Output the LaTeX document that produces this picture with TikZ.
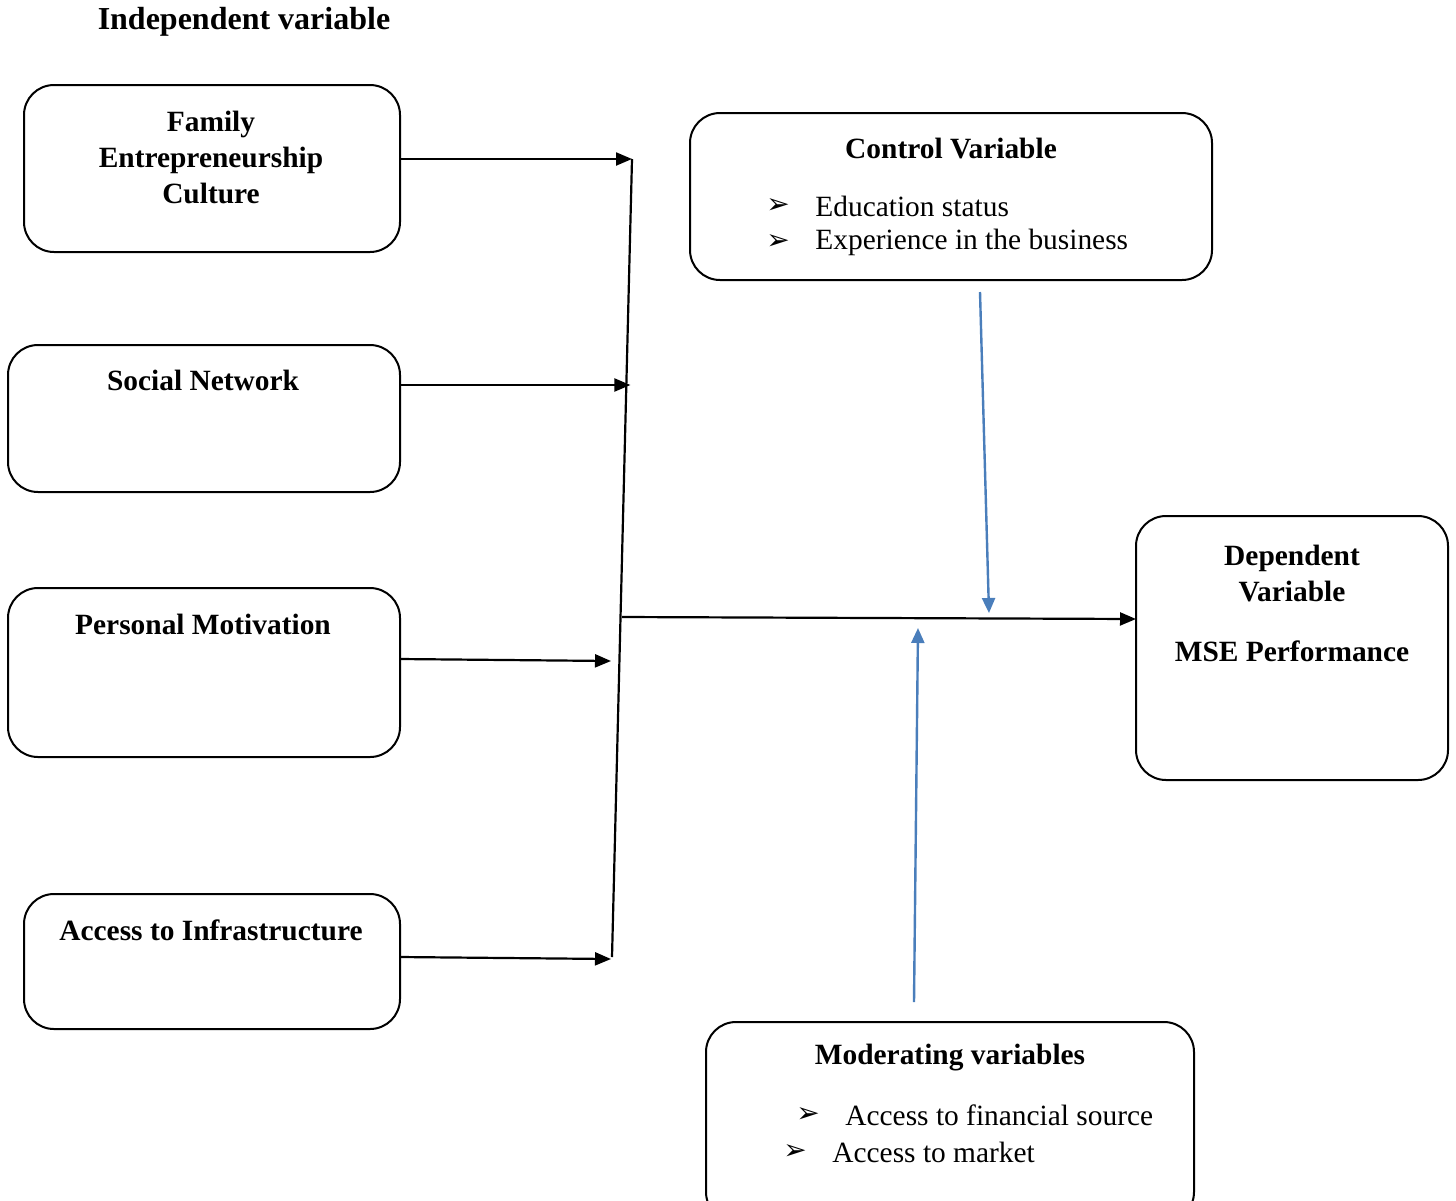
\documentclass[tikz,border=0pt]{standalone}
\usepackage{fontspec}
\setmainfont{Liberation Serif}
\newfontfamily\symfont{DejaVu Sans}
\usetikzlibrary{arrows.meta}

\definecolor{linkblue}{RGB}{74,126,187}

\begin{document}
\begin{tikzpicture}[x=0.5pt,y=-0.5pt, every node/.style={font=\fontsize{14.7}{18}\selectfont},
  box/.style={draw,line width=1pt,rounded corners=15pt,inner sep=0pt,outer sep=0pt},
  head/.style={font=\fontsize{14.7}{18}\selectfont\bfseries,align=center},
  item/.style={anchor=west,inner sep=0pt},
  feed/.style={-{Triangle[length=8pt,width=6.5pt]},line width=1.1pt},
  moderate/.style={-{Triangle[length=7.5pt,width=6.5pt]},line width=1.2pt,linkblue}]
  \clip (0,0) rectangle (1456,1200);
  % box helper: name, x1, y1, x2, y2
  \newcommand{\varbox}[5]{\node[box,minimum width={(#4-#2)*0.5pt},minimum height={(#5-#3)*0.5pt}] (#1) at ({(#2+#4)/2},{(#3+#5)/2}) {};}
  \newcommand{\bul}[2]{\node[inner sep=0pt] at (#1,#2) {\symfont\fontsize{14}{14}\selectfont ➢};}
  % title
  \node[head,font=\fontsize{16}{18}\selectfont\bfseries] (title) at (244,22) {Independent variable};
  % independent variables
  \varbox{fam}{24}{85}{400}{252}
  \node[head] (famtxt) at (211,157) {Family\\Entrepreneurship\\Culture};
  \varbox{soc}{8}{345}{400}{492}
  \node[head] (soctxt) at (203,380) {Social Network};
  \varbox{mot}{8}{588}{400}{757}
  \node[head] (mottxt) at (203,624) {Personal Motivation};
  \varbox{inf}{24}{894}{400}{1029}
  \node[head] (inftxt) at (211,930) {Access to Infrastructure};
  % control variable
  \varbox{ctl}{690}{113}{1212}{280}
  \node[head] (ctltxt) at (951,149) {Control Variable};
  \bul{778}{206} \node[item] (ctla) at (815,206) {Education status};
  \bul{778}{242} \node[item] (ctlb) at (815,242) {Experience in the business};
  % dependent variable
  \varbox{dep}{1136}{516}{1448}{780}
  \node[head] (deptxt) at (1292,574) {Dependent\\Variable};
  \node[head] (mse) at (1292,651) {MSE Performance};
  % moderating variables
  \varbox{mod}{706}{1022}{1194}{1222}
  \node[head] (modtxt) at (950,1058) {Moderating variables};
  \bul{808}{1115} \node[item] (moda) at (845,1115) {Access to financial source};
  \bul{795}{1152} \node[item] (modb) at (832,1152) {Access to market};
  % collector line
  \coordinate (ctop) at (632,159);
  \coordinate (csoc) at (630.4,385);
  \coordinate (cmot) at (611,661);
  \coordinate (cinf) at (611,959);
  \coordinate (cbot) at (612,957);
  \coordinate (cout) at (622,617);
  \draw[line width=1.1pt] (ctop) -- (cbot);
  \draw[feed] (fam.east |- ctop) -- (ctop);
  \draw[feed] (soc.east |- csoc) -- (csoc);
  \draw[feed] (400,659) -- (cmot);
  \draw[feed] (400,957) -- (cinf);
  \draw[feed] (cout) -- (dep.west |- 0,619);
  % control and moderating links
  \coordinate (ctlend) at (989,613);
  \coordinate (modend) at (918,628);
  \draw[moderate] (980,292) -- (ctlend);
  \draw[moderate] (914,1002) -- (modend);
\end{tikzpicture}
\end{document}
